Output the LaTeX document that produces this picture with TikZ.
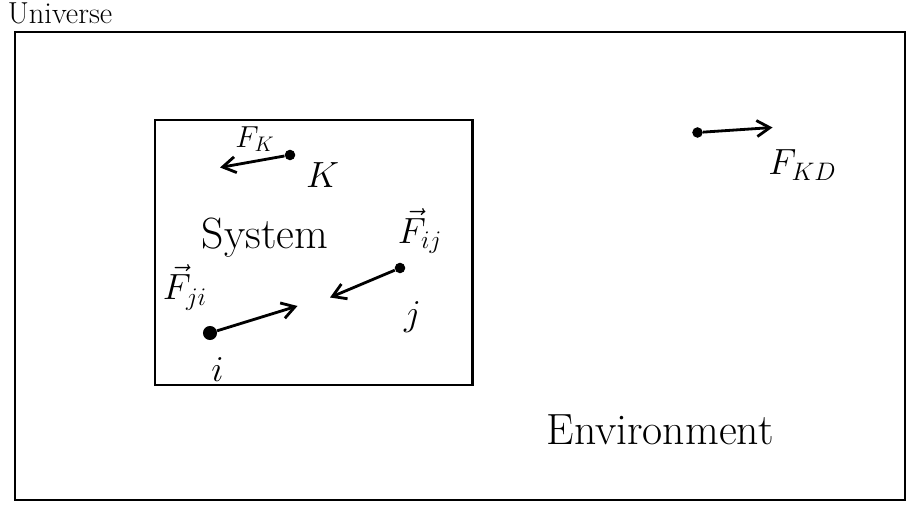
\documentclass[tikz,border=0pt]{standalone}
\usepackage{amsmath,amssymb}
\usepackage{xcolor}
\usepackage{tikz}
\usetikzlibrary{arrows.meta,positioning,calc}

\begin{document}
\begin{tikzpicture}[
  wall/.style={draw=black, line width=1.2pt},
  dot/.style={circle, fill=black, inner sep=0pt, minimum size=6pt},
  force/.style={-{Straight Barb[length=2.6mm,width=3.2mm]}, line width=1.6pt},
  lbl/.style={font=\huge, inner sep=1pt},
  big/.style={font=\Huge, inner sep=0pt},
]
\useasboundingbox (0,0) rectangle (18.24,-10.2);
% --- universe and system boxes ---
\node[font=\LARGE, inner sep=0pt, anchor=north west] (universe) at (0.15,-0.04) {Universe};
\draw[wall] (0.3,-0.64) rectangle (18.1,-10.0);
\draw[wall] (3.1,-2.4) rectangle (9.45,-7.7);
\node[big] (systxt) at (5.3,-4.75) {System};
\node[big] (envtxt) at (13.2,-8.6) {Environment};
% --- particle k ---
\node[dot] (k) at (5.8,-3.1) {};
\coordinate (kend) at (4.4,-3.35);
\draw[force] (k) -- (kend);
\node[lbl, font=\LARGE] (fk) at (5.1,-2.78) {$F_K$};
\node[lbl] (klbl) at (6.45,-3.5) {$K$};
% --- particle outside ---
\node[dot] (d) at (13.95,-2.65) {};
\coordinate (dend) at (15.45,-2.55);
\draw[force] (d) -- (dend);
\node[lbl] (fkd) at (16.05,-3.3) {$F_{KD}$};
% --- particles i and j ---
\node[dot] (j) at (8.0,-5.36) {};
\coordinate (jend) at (6.6,-5.95);
\draw[force] (j) -- (jend);
\node[lbl] (fij) at (8.4,-4.62) {$\vec{F}_{ij}$};
\node[lbl] (jlbl) at (8.25,-6.35) {$j$};
\node[dot, minimum size=8pt] (i) at (4.2,-6.66) {};
\coordinate (iend) at (5.95,-6.12);
\draw[force] (i) -- (iend);
\node[lbl] (fji) at (3.7,-5.75) {$\vec{F}_{ji}$};
\node[lbl] (ilbl) at (4.35,-7.4) {$i$};
\end{tikzpicture}
\end{document}
